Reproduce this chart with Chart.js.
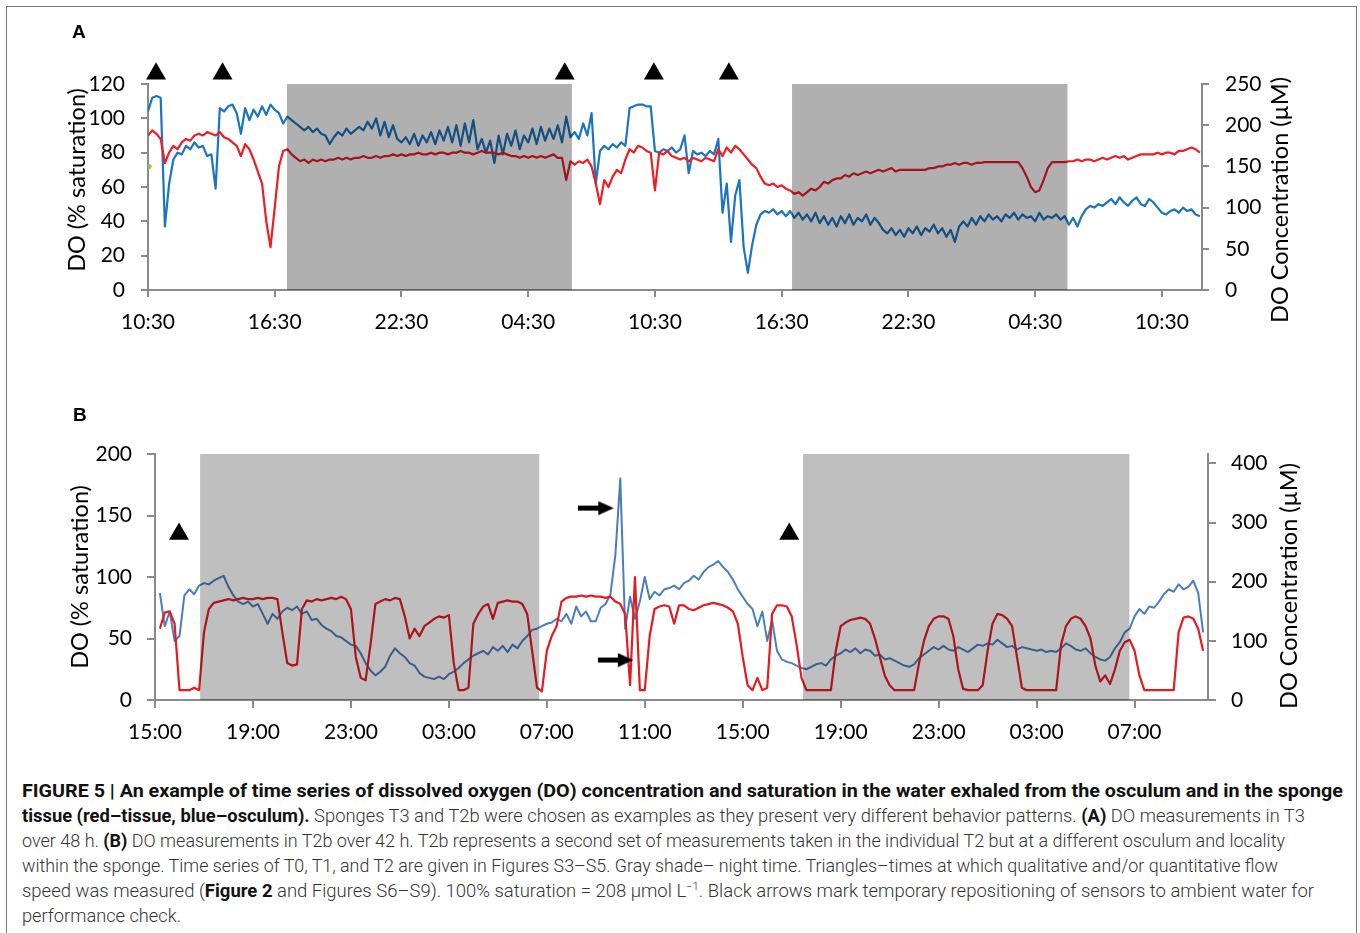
<!DOCTYPE html>
<html><head><meta charset="utf-8">
<script src="https://cdn.jsdelivr.net/npm/chart.js@4.4.1/dist/chart.umd.min.js"></script>
<style>
html,body{margin:0;padding:0;background:#fff;}
body{width:1360px;height:933px;position:relative;overflow:hidden;font-family:Lato,sans-serif;}
#frame{position:absolute;left:6px;top:6px;width:1351px;height:960px;border:1px solid #777;box-sizing:border-box;}
canvas{position:absolute;left:0;}
#cA{top:0;}
#cB{top:380px;}
.plabel{position:absolute;font:bold 19px "Liberation Sans",Arial,sans-serif;color:#000;line-height:19px;}
.atitle{position:absolute;font-family:Lato;font-size:23.5px;color:#000;white-space:nowrap;transform:translate(-50%,-50%) rotate(-90deg);line-height:28px;}
#caption{position:absolute;left:22px;top:778px;font-family:Roboto,"Liberation Sans",sans-serif;font-weight:300;font-size:18px;line-height:25px;color:#333;}
#caption .ln{display:block;height:25px;}
#caption .ln span{display:inline-block;white-space:nowrap;transform-origin:0 0;}
#caption b{color:#111;font-weight:700;}
sup{font-size:11px;line-height:0;vertical-align:7px;}
</style></head>
<body>
<div id="frame"></div>
<canvas id="cA" width="1360" height="380"></canvas>
<canvas id="cB" width="1360" height="390"></canvas>
<div class="plabel" style="left:72px;top:22px;">A</div>
<div class="plabel" style="left:73px;top:405px;">B</div>
<div class="atitle" style="left:76px;top:180px;">DO (% saturation)</div>
<div class="atitle" style="left:1279px;top:200px;">DO Concentration (µM)</div>
<div class="atitle" style="left:79px;top:577px;">DO (% saturation)</div>
<div class="atitle" style="left:1288px;top:586px;">DO Concentration (µM)</div>
<div id="caption">
<div class="ln"><span data-w="1321"><b>FIGURE 5 | An example of time series of dissolved oxygen (DO) concentration and saturation in the water exhaled from the osculum and in the sponge</b></span></div>
<div class="ln"><span data-w="1283"><b>tissue (red–tissue, blue–osculum).</b> Sponges T3 and T2b were chosen as examples as they present very different behavior patterns. <b>(A)</b> DO measurements in T3</span></div>
<div class="ln"><span data-w="1263">over 48 h. <b>(B)</b> DO measurements in T2b over 42 h. T2b represents a second set of measurements taken in the individual T2 but at a different osculum and locality</span></div>
<div class="ln"><span data-w="1256">within the sponge. Time series of T0, T1, and T2 are given in Figures S3–S5. Gray shade– night time. Triangles–times at which qualitative and/or quantitative flow</span></div>
<div class="ln"><span data-w="1292">speed was measured (<b>Figure 2</b> and Figures S6–S9). 100% saturation = 208 µmol L<sup>−1</sup>. Black arrows mark temporary repositioning of sensors to ambient water for</span></div>
<div class="ln"><span data-w="159">performance check.</span></div>
</div>
<script>
// ---------- DATA ----------
const STEP = 0.2; // hours between samples
const tickLabelsA = ['10:30','16:30','22:30','04:30','10:30','16:30','22:30','04:30','10:30'];
const tickLabelsB = ['15:00','19:00','23:00','03:00','07:00','11:00','15:00','19:00','23:00','03:00','07:00'];
const nightA = [[6.58,20.07],[30.49,43.54]];
const nightB = [[1.84,15.7],[26.46,39.8]];
const triTimesA = [0.38,3.53,19.73,23.95,27.5];
const triLevelA = 126;
const triTimesB = [0.98,25.9];
const triLevelB = 135;
const arrowTimesB = [18.02,18.82];
const arrowLevelsB = [156,32.5];

// Panel A: osculum (blue) and tissue (red), % saturation, every 0.2 h from 10:30
const blueA = [
104,112,113,112,37,62,76,80,79,84,
82,86,83,84,78,79,59,106,104,107,
108,103,91,106,99,105,101,107,102,108,
105,103,97,101,99,97,95,93,95,92,
94,91,90,85,89,92,90,94,91,93,
95,93,98,94,100,90,98,89,96,88,
86,89,85,91,84,90,86,92,85,93,
87,95,86,96,84,97,86,99,82,88,
80,87,74,90,79,91,84,93,82,90,
86,94,85,95,87,94,88,96,86,101,
89,92,88,97,90,103,62,81,84,82,
85,83,86,84,106,107,108,108,107,107,
81,80,82,81,83,80,82,90,68,81,
79,80,78,81,79,88,45,62,28,55,
64,25,10,26,38,44,46,45,47,44,
46,43,46,42,45,41,44,40,45,39,
43,38,42,37,43,39,44,38,42,40,
44,38,42,39,35,33,36,32,35,31,
36,33,37,32,36,34,38,33,36,31,
35,28,37,40,37,42,38,43,40,44,
41,43,40,44,42,45,41,44,42,43,
40,45,41,43,42,44,41,43,38,42,
37,43,47,49,48,50,49,51,53,50,
54,51,49,52,54,50,49,53,51,48,
45,44,46,47,45,48,46,47,44,43];
const redA = [
90,93,91,88,74,80,84,82,86,88,
87,90,91,90,92,91,90,92,89,88,
86,84,78,85,82,76,69,62,40,25,
48,72,81,82,79,77,75,76,74,76,
75,76,75,76,76,77,76,77,76,77,
77,78,77,77,78,77,78,78,79,78,
79,78,79,79,80,79,79,80,79,80,
80,79,80,80,81,80,80,79,80,81,
80,80,80,79,80,79,78,78,77,78,
77,78,77,78,77,78,79,77,77,64,
75,73,75,74,76,72,62,50,64,60,
66,70,68,76,82,80,84,83,81,80,
58,80,79,81,78,77,76,77,75,77,
76,75,77,76,75,82,78,83,80,84,
82,79,76,73,71,66,62,61,62,60,
61,59,58,56,57,55,57,59,58,60,
63,62,64,65,65,67,66,68,67,68,
69,68,69,70,69,70,71,69,70,70,
70,70,70,70,70,71,71,72,72,73,
73,74,73,74,74,73,74,74,74.5,74.5,
74.5,74.5,74.5,74.5,74.5,74.5,74.5,71,66,60,
57,58,64,71,74.5,74.5,74.5,74.5,75,75,
76,75,76,76,75,76,77,76,77,78,
77,78,76,77,78,79,79,79,79,80,
79,80,80,79,81,81,82,83,82,80];

// Panel B: every 0.2 h from 15:00
const blueB = [
null,87,60,72,48,52,85,90,86,93,
95,94,97,99,101,92,85,80,78,80,
76,78,70,62,70,66,72,75,73,76,
70,72,65,66,61,58,56,52,51,48,
45,44,38,30,24,20,23,27,36,42,
38,35,30,28,22,19,18,17,19,17,
21,23,26,30,33,36,38,40,37,43,
40,44,39,45,42,48,52,57,58,60,
62,63,66,64,70,62,76,68,72,64,
64,75,78,86,118,180,58,84,66,80,
100,82,88,85,90,91,93,90,95,97,
101,98,104,108,110,113,108,104,98,90,
84,78,74,60,72,48,65,40,33,31,
30,28,26,25,27,29,30,28,33,36,
38,41,39,42,38,41,40,36,37,33,
34,32,30,28,27,29,34,37,40,43,
41,44,41,40,43,41,39,42,45,44,
46,45,49,46,43,44,41,43,42,41,
40,41,39,40,39,42,46,44,41,40,
42,38,35,33,32,35,42,47,55,58,
68,74,70,76,75,80,86,90,88,94,
90,92,97,87,55];
const redB = [
null,58,71,72,62,8,8,8,10,8,
55,74,79,80,81,82,81,82,83,82,
82,83,82,83,83,82,55,30,28,29,
74,81,80,82,81,82,83,82,84,82,
74,35,18,16,45,78,80,82,81,83,
82,68,50,58,52,60,63,66,68,67,
69,30,8,8,10,62,70,76,78,66,
79,80,81,80,80,78,70,40,10,7,
40,52,60,80,83,84,84,85,84,85,
84,84,83,84,80,78,70,12,100,8,
8,52,74,76,77,76,62,77,77,74,
73,75,77,78,79,78,77,75,72,62,
35,12,8,18,8,10,70,77,77,76,
68,45,18,8,8,8,8,8,8,40,
60,63,65,66,67,66,62,50,35,20,
12,8,8,8,8,8,30,48,60,66,
68,68,66,52,25,9,8,8,8,12,
40,62,70,69,66,60,35,10,8,8,
8,8,8,8,8,45,60,66,68,66,
60,50,28,15,20,13,25,40,47,49,
40,20,8,8,8,8,8,8,8,55,
67,68,66,58,40];

// ---------- HELPERS ----------
function toXY(vals){ return vals.map((v,i)=>({x: +(i*STEP).toFixed(2), y: v})); }
const AX = '#8a8a8a';
Chart.defaults.font.family = 'Lato';
function arrowImg(){
  const c=document.createElement('canvas'); c.width=36; c.height=15;
  const g=c.getContext('2d'); g.fillStyle='#000';
  g.fillRect(0,5,22,5);
  g.beginPath(); g.moveTo(20,0.5); g.lineTo(35.5,7.5); g.lineTo(20,14.5); g.closePath(); g.fill();
  return c;
}
function yAxis(pos, max, step, tl, pad, width, incl){
  return {
    type:'linear', position:pos, min:0, max:max,
    grid:{display:true, drawOnChartArea:false, drawTicks:true, tickLength:tl, color:AX, lineWidth:2},
    border:{display:true, color:AX, width:2},
    ticks:{stepSize:step, padding:pad, color:'#000', font:{size:21}, includeBounds:incl},
    afterFit(s){ s.width = width; }
  };
}
function xAxis(max, step, labels, tl, pad, height){
  return {
    type:'linear', position:'bottom', min:0, max:max,
    grid:{display:true, drawOnChartArea:false, drawTicks:true, tickLength:tl, color:AX, lineWidth:2},
    border:{display:true, color:AX, width:2},
    ticks:{stepSize:step, includeBounds:false, autoSkip:false, maxRotation:0, padding:pad, color:'#000', font:{size:21},
      callback:(v)=>labels[Math.round(v/step)]},
    afterFit(s){ s.height = height; }
  };
}
function shadeSets(nights, top, alpha){
  return nights.map(([s,e])=>({data:[{x:s,y:top},{x:e,y:top}], fill:'origin', backgroundColor:'rgba(0,0,0,'+alpha+')',
    borderWidth:0, borderColor:'rgba(0,0,0,0)', pointRadius:0, order:2}));
}
const common = {
  responsive:false, animation:false, devicePixelRatio:1,
  plugins:{legend:{display:false}, tooltip:{enabled:false}},
  events:[]
};

// ---------- PANEL A ----------
new Chart(document.getElementById('cA'), {
  type:'line',
  data:{datasets:[
    {label:'osculum', data:toXY(blueA), borderColor:'#1b74be', borderWidth:2.2, pointRadius:0, order:4, borderJoinStyle:'round'},
    {label:'tissue', data:toXY(redA), borderColor:'#ee1c25', borderWidth:2.2, pointRadius:0, order:3, borderJoinStyle:'round'},
    ...shadeSets(nightA, 120, 0.31),
    {data:triTimesA.map(t=>({x:t,y:triLevelA})), showLine:false, pointStyle:'triangle', pointRadius:11.5, pointHoverRadius:15,
      pointBackgroundColor:'#000', pointBorderWidth:0, clip:false, order:1},
    {data:[{x:0.05,y:72}], showLine:false, pointRadius:2.5, pointBackgroundColor:'#8dc63f', pointBorderWidth:0, order:0}
  ]},
  options:Object.assign({}, common, {
    layout:{padding:{left:67, right:40, top:84, bottom:0}},
    scales:{
      x: xAxis(49.9, 6, tickLabelsA, 7, 13, 90),
      y: yAxis('left', 120, 20, 7, 16, 81, true),
      y2: yAxis('right', 250, 50, 7, 16, 118, true)
    }
  })
});

// ---------- PANEL B ----------
const arrow = arrowImg();
new Chart(document.getElementById('cB'), {
  type:'line',
  data:{datasets:[
    {label:'osculum', data:toXY(blueB), borderColor:'#4a7ebb', borderWidth:2, pointRadius:0, order:4, borderJoinStyle:'round'},
    {label:'tissue', data:toXY(redB), borderColor:'#e51b22', borderWidth:2.2, pointRadius:0, order:3, borderJoinStyle:'round'},
    ...shadeSets(nightB, 200, 0.25),
    {data:triTimesB.map(t=>({x:t,y:triLevelB})), showLine:false, pointStyle:'triangle', pointRadius:11.5, pointHoverRadius:15,
      pointBackgroundColor:'#000', pointBorderWidth:0, clip:false, order:1},
    {data:arrowTimesB.map((t,i)=>({x:t,y:arrowLevelsB[i]})), showLine:false, pointStyle:arrow, pointRadius:6, pointHoverRadius:6, clip:false, order:0}
  ]},
  options:Object.assign({}, common, {
    layout:{padding:{left:67, right:40, top:74, bottom:0}},
    scales:{
      x: xAxis(43.0, 4, tickLabelsB, 8, 12, 70),
      y: yAxis('left', 200, 50, 8, 15, 88, true),
      y2: yAxis('right', 416, 100, 8, 15, 112, false)
    }
  })
});

// ---------- caption line fitting ----------
function fitLines(){
  document.querySelectorAll('#caption .ln span').forEach(s=>{
    s.style.transform='none';
    const w = s.getBoundingClientRect().width;
    const target = +s.dataset.w;
    if (w>0) s.style.transform = 'scaleX(' + (target/w) + ')';
  });
}
fitLines();
if (document.fonts && document.fonts.ready) document.fonts.ready.then(fitLines);
</script>
</body></html>
